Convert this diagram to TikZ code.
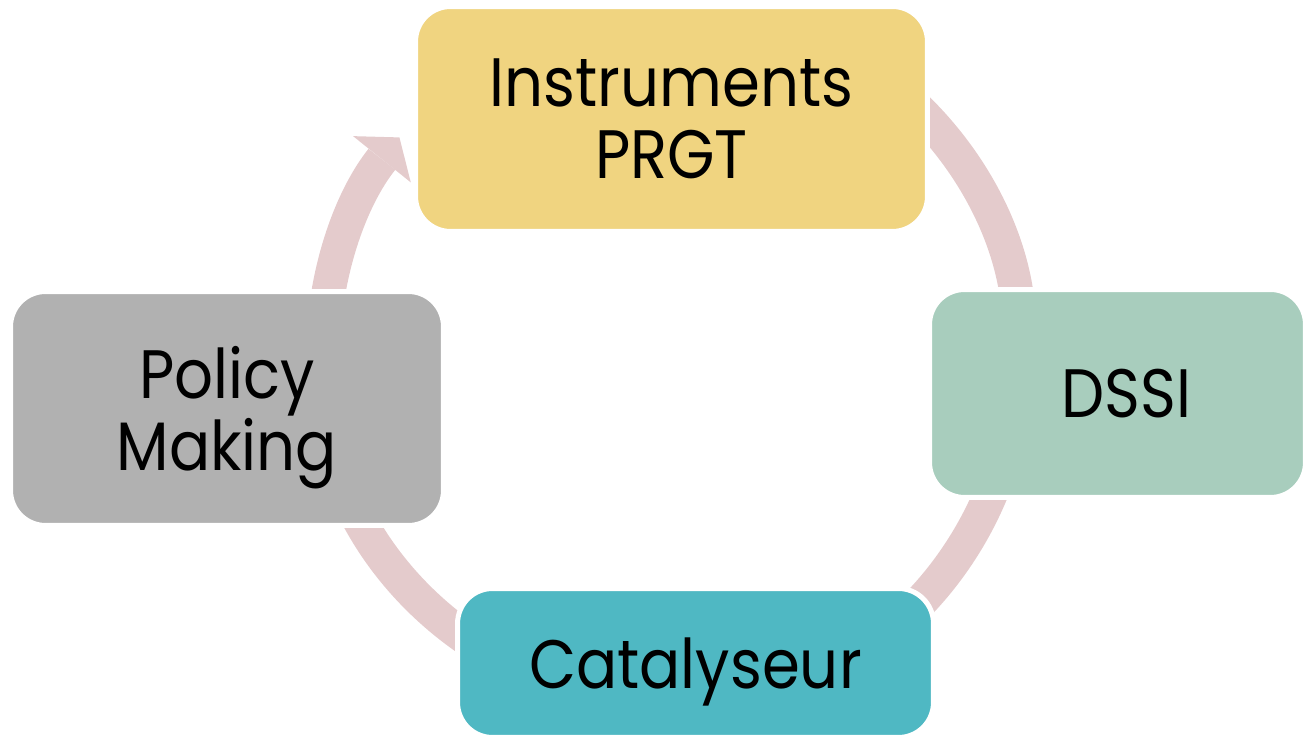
\documentclass[tikz,border=0pt]{standalone}
\usepackage{fontspec}
\setmainfont{Poppins}[FakeStretch=0.89]
\usetikzlibrary{arrows.meta}
\definecolor{prgtyellow}{HTML}{F0D480}
\definecolor{dssigreen}{HTML}{A8CDBD}
\definecolor{catalteal}{HTML}{4FB8C3}
\definecolor{policygray}{HTML}{B1B1B1}
\definecolor{bandpink}{HTML}{E4CBCC}

\begin{document}
\begin{tikzpicture}[x=0.02cm, y=0.02cm,
  box/.style = {rounded corners=0.7cm, draw=white, line width=0.1cm, inner sep=0pt,
    align=center, text depth=0pt, font=\fontsize{39}{41}\selectfont},
  band/.style = {draw=bandpink, line width=0.68cm,
    -{Triangle[length=0.56cm, width=1.48cm, line width=0pt]}}]
\useasboundingbox (0,0) rectangle (1304,736);
\coordinate (c) at (671,381);
% cycle arcs
\draw[band] ([shift={(180:348)}]c) arc[start angle=180, end angle=141.3, radius=348];
\draw[band] ([shift={(60:348)}]c) arc[start angle=60, end angle=0, radius=348];
\draw[band] ([shift={(0:348)}]c) arc[start angle=0, end angle=-80, radius=348];
\draw[band] ([shift={(-90:348)}]c) arc[start angle=-90, end angle=-180, radius=348];
% boxes
\node[box, fill=prgtyellow, minimum width=10.24cm, minimum height=4.5cm] (instr) at (671.5,617) {Instruments\\PRGT};
\node[box, fill=dssigreen, minimum width=7.52cm, minimum height=4.16cm] (dssi) at (1117.5,342.5) {\hspace*{0.36cm}DSSI};
\node[box, fill=catalteal, minimum width=9.52cm, minimum height=2.98cm] (catal) at (695.5,73) {Catalyseur};
\node[box, fill=policygray, minimum width=8.66cm, minimum height=4.68cm] (policy) at (227,327.5) {Policy\\Making};
\end{tikzpicture}
\end{document}
